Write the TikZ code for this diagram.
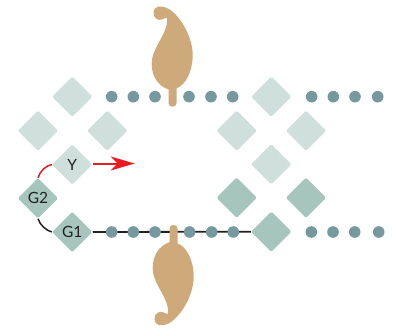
\documentclass[tikz,border=0pt]{standalone}
\usepackage{fontspec}
\setmainfont{Lato}
\usetikzlibrary{shapes.geometric,arrows.meta}
\definecolor{tan}{HTML}{CEA97A}
\definecolor{dotc}{HTML}{75999F}
\definecolor{lightd}{HTML}{CFE0DC}
\definecolor{midd}{HTML}{A6C6BD}
\definecolor{redc}{HTML}{ED1C24}
\definecolor{ink}{HTML}{231F20}
\tikzset{
  dia/.style={diamond,aspect=1,minimum width=40.5pt,minimum height=40.5pt,inner sep=0pt,rounded corners=1.5pt,text=ink,font=\fontsize{15.5}{15.5}\selectfont},
  pale/.style={dia,fill=lightd},
  mid/.style={dia,fill=midd},
  bead/.style={circle,fill=dotc,minimum size=11.6pt,inner sep=0pt},
  leaf/.style={fill=tan,draw=none}
}
\newcommand{\leafshape}{
  (168.5,103) .. controls (168.5,105.5) and (170,106.7) .. (172.5,106.7)
  .. controls (175,106.7) and (176.5,105.5) .. (176.5,103)
  -- (176.5,88.3)
  .. controls (185,85.5) and (192.7,72) .. (192.7,55)
  .. controls (192.7,35) and (178,13) .. (167,8)
  .. controls (162,5.5) and (153.5,5) .. (153.5,13)
  .. controls (153.5,18) and (158,21) .. (162,19.5)
  .. controls (164,18.5) and (166,17.5) .. (167,18)
  .. controls (168,28) and (162,36) .. (157,46)
  .. controls (153,54) and (151.7,58) .. (151.7,64)
  .. controls (151.7,76) and (158,86) .. (168.5,89.5)
  -- cycle
}
\begin{document}
\begin{tikzpicture}[x=1pt,y=-1pt]
\useasboundingbox (0,0) rectangle (396,329);
\node[pale] (a1) at (72.3,96.7) {};
\node[pale] (a2) at (38,130.7) {};
\node[pale] (a3) at (107.3,130.7) {};
\node[pale] (y) at (72.3,164.5) {Y};
\node[mid] (g2) at (38,198.3) {G2};
\node[mid] (g1) at (72.3,232) {G1};
\node[pale] (b1) at (271.3,96.7) {};
\node[pale] (b2) at (236.7,130.7) {};
\node[pale] (b3) at (306,130.7) {};
\node[pale] (b4) at (271.3,164.3) {};
\node[mid] (b5) at (236.7,197.7) {};
\node[mid] (b6) at (306,197.7) {};
\node[mid] (b7) at (271.3,231.7) {};
\draw[ink,line width=1.8pt] (g1.east) -- (b7.west);
\draw[redc,line width=1.5pt] (g2.north) .. controls (40,171) and (46,165.5) .. (y.west);
\draw[ink,line width=1.5pt] (g2.south) .. controls (40,225) and (46,230.5) .. (g1.west);
\coordinate (tip) at (134.7,163.5);
\draw[redc,line width=2pt,-{Stealth[length=24pt,width=14pt,inset=7pt]}] (y.east |- tip) -- (tip);
\foreach \n/\x in {1/111.7,2/133.3,3/155,4/189,5/211,6/232.7,7/311.7,8/333.3,9/355,10/377.7}
  \node[bead] (t\n) at (\x,96.7) {};
\foreach \n/\x in {1/111.7,2/133.3,3/155,4/189.6,5/211.7,6/233.3,7/311.3,8/333,9/354.7,10/378.7}
  \node[bead] (u\n) at (\x,232) {};
\fill[leaf] \leafshape;
\begin{scope}[shift={(1,331.7)},yscale=-1]
\fill[leaf] \leafshape;
\end{scope}
\end{tikzpicture}
\end{document}
